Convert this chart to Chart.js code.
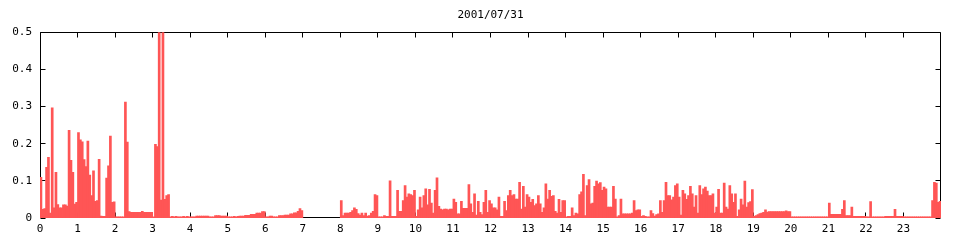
<!DOCTYPE html>
<html>
<head>
<meta charset="utf-8">
<title>2001/07/31</title>
<script src="https://cdn.jsdelivr.net/npm/chart.js@4/dist/chart.umd.min.js"></script>
<style>
  html, body { margin: 0; padding: 0; background: #fff; }
  canvas { display: block; }
</style>
</head>
<body>
<canvas id="loadChart" width="960" height="240"></canvas>
<script>
const chartTitle = '2001/07/31';
const hourTicks = [0, 1, 2, 3, 4, 5, 6, 7, 8, 9, 10, 11, 12, 13, 14, 15, 16, 17, 18, 19, 20, 21, 22, 23];
const yTicks = [0, 0.1, 0.2, 0.3, 0.4, 0.5];
const slotsPerHour = 20; // one bar every 3 minutes

// 00:00 - 05:57
const loadNight = [
  0.109, 0.023, 0.025, 0.136, 0.163, 0.013, 0.296, 0.027, 0.123, 0.036, 0.027, 0.027, 0.035, 0.035, 0.032, 0.236, 0.155, 0.123, 0.037, 0.042,
  0.23, 0.21, 0.205, 0.157, 0.138, 0.207, 0.115, 0.06, 0.127, 0.045, 0.047, 0.158, 0.005, 0.004, 0.004, 0.107, 0.14, 0.22, 0.042, 0.043,
  0.002, 0.002, 0.002, 0.002, 0.003, 0.312, 0.204, 0.017, 0.015, 0.015, 0.015, 0.015, 0.015, 0.015, 0.018, 0.015, 0.015, 0.015, 0.015, 0.015,
  0.003, 0.198, 0.192, 0.6, 0.048, 0.6, 0.05, 0.06, 0.063, 0.001, 0.004, 0.001, 0.004, 0.001, 0.003, 0.001, 0.004, 0.001, 0.004, 0.002,
  0.002, 0.002, 0.002, 0.005, 0.005, 0.005, 0.005, 0.005, 0.005, 0.005, 0.001, 0.001, 0.001, 0.006, 0.006, 0.006, 0.005, 0.005, 0.005, 0.005,
  0.002, 0.002, 0.002, 0.004, 0.003, 0.004, 0.005, 0.005, 0.005, 0.007, 0.007, 0.007, 0.01, 0.01, 0.01, 0.013, 0.013, 0.013, 0.017, 0.017
];

// 06:00 - 11:57 (no samples between 7 and 8)
const loadMorning = [
  0.001, 0.001, 0.005, 0.005, 0.002, 0.002, 0.002, 0.006, 0.006, 0.006, 0.008, 0.008, 0.008, 0.011, 0.011, 0.014, 0.014, 0.018, 0.025, 0.02,
  null, null, null, null, null, null, null, null, null, null, null, null, null, null, null, null, null, null, null, null,
  0.047, 0.006, 0.013, 0.013, 0.013, 0.015, 0.02, 0.027, 0.023, 0.012, 0.008, 0.013, 0.006, 0.013, 0.005, 0.006, 0.013, 0.018, 0.063, 0.06,
  0.002, 0.001, 0.001, 0.006, 0.004, 0.004, 0.1, 0.004, 0.004, 0.004, 0.074, 0.018, 0.018, 0.047, 0.087, 0.056, 0.065, 0.063, 0.06, 0.074,
  0.004, 0.022, 0.056, 0.027, 0.06, 0.078, 0.035, 0.077, 0.04, 0.013, 0.074, 0.108, 0.031, 0.024, 0.022, 0.024, 0.024, 0.022, 0.024, 0.024,
  0.051, 0.042, 0.011, 0.011, 0.045, 0.026, 0.026, 0.026, 0.09, 0.038, 0.015, 0.065, 0.008, 0.045, 0.015, 0.009, 0.042, 0.074, 0.015, 0.047
];

// 12:00 - 17:57
const loadAfternoon = [
  0.038, 0.027, 0.027, 0.022, 0.056, 0.004, 0.004, 0.045, 0.02, 0.06, 0.074, 0.06, 0.063, 0.051, 0.051, 0.096, 0.024, 0.085, 0.029, 0.063,
  0.056, 0.042, 0.05, 0.033, 0.038, 0.06, 0.038, 0.015, 0.027, 0.092, 0.051, 0.074, 0.058, 0.06, 0.018, 0.013, 0.05, 0.015, 0.047, 0.047,
  0.002, 0.004, 0.004, 0.027, 0.006, 0.013, 0.011, 0.063, 0.07, 0.117, 0.006, 0.087, 0.103, 0.038, 0.04, 0.085, 0.099, 0.092, 0.095, 0.074,
  0.083, 0.078, 0.029, 0.029, 0.029, 0.085, 0.051, 0.002, 0.006, 0.051, 0.011, 0.011, 0.011, 0.011, 0.011, 0.013, 0.047, 0.02, 0.022, 0.022,
  0.004, 0.006, 0.004, 0.002, 0.002, 0.02, 0.012, 0.005, 0.009, 0.011, 0.047, 0.015, 0.047, 0.096, 0.06, 0.06, 0.049, 0.056, 0.087, 0.092,
  0.056, 0.008, 0.074, 0.065, 0.05, 0.06, 0.085, 0.065, 0.029, 0.06, 0.013, 0.087, 0.063, 0.078, 0.083, 0.072, 0.06, 0.06, 0.065, 0.013
];

// 18:00 - 23:57
const loadEvening = [
  0.029, 0.077, 0.013, 0.013, 0.094, 0.029, 0.024, 0.087, 0.065, 0.042, 0.065, 0.004, 0.022, 0.051, 0.035, 0.099, 0.029, 0.041, 0.044, 0.076,
  0.004, 0.006, 0.009, 0.012, 0.013, 0.015, 0.022, 0.016, 0.017, 0.017, 0.017, 0.017, 0.017, 0.017, 0.017, 0.017, 0.017, 0.019, 0.017, 0.017,
  0, 0, 0, 0, 0, 0, 0, 0, 0, 0, 0, 0, 0, 0, 0, 0, 0, 0, 0, 0,
  0.04, 0.01, 0.01, 0.01, 0.01, 0.01, 0.01, 0.023, 0.047, 0.006, 0.006, 0.006, 0.029, 0.004, 0.004, 0.004, 0.004, 0.004, 0.004, 0.004,
  0, 0, 0.044, 0, 0, 0, 0, 0, 0, 0, 0.004, 0.004, 0.004, 0.004, 0.004, 0.023, 0.004, 0.004, 0.004, 0.004,
  0, 0, 0, 0, 0, 0, 0, 0, 0, 0, 0, 0, 0, 0, 0, 0.047, 0.096, 0.094, 0.042, 0.045
];

const FONT = "'DejaVu Sans Mono', 'Liberation Mono', monospace";

// gnuplot style frame with inward ticks on all four sides
const framePlugin = {
  id: 'frame',
  beforeDatasetsDraw(chart) {
    const { ctx, chartArea: a, scales: { x, y } } = chart;
    const L = Math.round(a.left) + 0.5;
    const R = Math.round(a.right) - 0.5;
    const T = Math.floor(a.top) + 0.5;
    const B = Math.round(a.bottom) - 0.5;
    const tick = 5;
    ctx.save();
    ctx.strokeStyle = '#000';
    ctx.lineWidth = 1;
    ctx.beginPath();
    ctx.rect(L, T, R - L, B - T);
    yTicks.forEach(v => {
      const py = Math.floor(y.getPixelForValue(v)) + 0.5;
      ctx.moveTo(L, py); ctx.lineTo(L + tick, py);
      ctx.moveTo(R, py); ctx.lineTo(R - tick, py);
    });
    hourTicks.forEach(h => {
      const px = Math.floor(x.getPixelForValue(h)) + 0.5;
      ctx.moveTo(px, B); ctx.lineTo(px, B - tick);
      ctx.moveTo(px, T); ctx.lineTo(px, T + tick);
    });
    ctx.stroke();
    ctx.restore();
  }
};

document.addEventListener('DOMContentLoaded', function () {
  const values = [].concat(loadNight, loadMorning, loadAfternoon, loadEvening);
  const points = values.map((v, i) => ({ x: (i + 0.5) / slotsPerHour, y: v }));

  const ctx = document.getElementById('loadChart').getContext('2d');
  new Chart(ctx, {
    type: 'bar',
    data: {
      datasets: [{
        data: points,
        backgroundColor: '#ff5555',
        borderWidth: 0,
        barPercentage: 1,
        categoryPercentage: 1,
        minBarLength: 1,
        inflateAmount: 0.4
      }]
    },
    options: {
      responsive: false,
      animation: false,
      layout: { padding: { left: 0, right: 19, top: 0, bottom: 0 } },
      plugins: {
        legend: { display: false },
        tooltip: { enabled: false },
        title: {
          display: true,
          text: chartTitle,
          fullSize: false,
          color: '#000',
          font: { family: FONT, size: 11, weight: 'normal', lineHeight: 1.2 },
          padding: { top: 9, bottom: 10 }
        }
      },
      scales: {
        x: {
          type: 'linear',
          min: 0,
          max: 24,
          offset: false,
          grid: { display: false, drawTicks: false },
          border: { display: false },
          ticks: {
            stepSize: 1,
            autoSkip: false,
            maxRotation: 0,
            padding: 5,
            color: '#000',
            font: { family: FONT, size: 11 },
            callback: v => (hourTicks.includes(v) ? String(v) : '')
          },
          afterFit: s => { s.height = 22; }
        },
        y: {
          min: 0,
          max: 0.5,
          grid: { display: false, drawTicks: false },
          border: { display: false },
          ticks: {
            stepSize: 0.1,
            padding: 8,
            color: '#000',
            font: { family: FONT, size: 11 },
            callback: v => (v === 0 ? '0' : v.toFixed(1))
          },
          afterFit: s => { s.width = 40; }
        }
      }
    },
    plugins: [framePlugin]
  });
});
</script>
</body>
</html>
